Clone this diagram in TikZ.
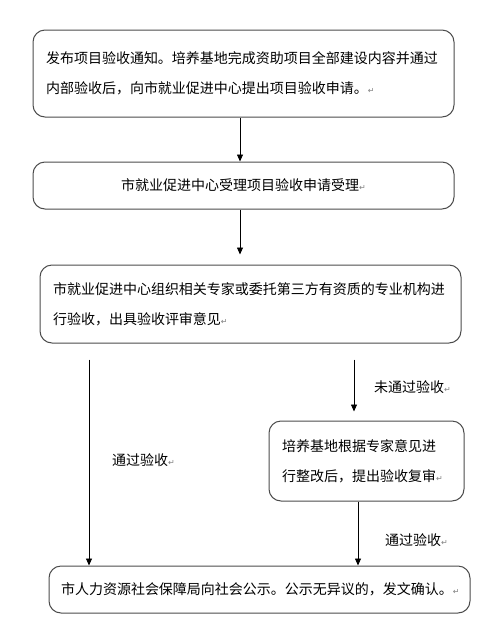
\documentclass[tikz,border=0pt]{standalone}
\usepackage{fontspec}
\setmainfont{Noto Sans CJK SC}
\newfontfamily\markfont{DejaVu Sans}
\usetikzlibrary{arrows.meta,positioning}
\newcommand{\Enter}{{\markfont\fontsize{8}{8}\selectfont\textcolor{gray}{↵}}}

\begin{document}
\begin{tikzpicture}[x=1pt, y=-1pt,
    stage/.style={draw=black!70, fill=white, line width=1pt, rounded corners=12pt,
        inner xsep=13pt, inner ysep=0pt, align=left,
        font=\fontsize{14}{30}\selectfont},
    flow/.style={-{Triangle[length=7pt,width=6pt]}, line width=0.8pt},
    note/.style={font=\fontsize{14}{16}\selectfont, inner sep=0pt, anchor=west}
]
\useasboundingbox (0,0) rectangle (495,630);

\node[stage, minimum width=421pt, minimum height=87pt, text width=395pt] (apply) at (243.5,73.5)
    {发布项目验收通知。培养基地完成资助项目全部建设内容并通过\\内部验收后，向市就业促进中心提出项目验收申请。\Enter};
\node[stage, minimum width=421pt, minimum height=47pt, text width=395pt, align=center] (accept) at (243.5,185.5)
    {市就业促进中心受理项目验收申请受理\Enter};
\node[stage, minimum width=421pt, minimum height=78pt, text width=395pt] (review) at (250.5,304)
    {市就业促进中心组织相关专家或委托第三方有资质的专业机构进\\行验收，出具验收评审意见\Enter};
\node[stage, minimum width=195pt, minimum height=80pt, text width=169pt] (rework) at (366.5,461)
    {培养基地根据专家意见进\\行整改后，提出验收复审\Enter};
\node[stage, minimum width=421pt, minimum height=47pt, text width=397pt, inner xsep=12pt] (notice) at (259.5,589.5)
    {市人力资源社会保障局向社会公示。公示无异议的，发文确认。\Enter};

\coordinate (colL) at (89,0);
\coordinate (colM) at (240,0);
\coordinate (colR) at (354,0);
\coordinate (colS) at (358,0);

\draw[flow] (apply.south -| colM) -- (accept.north -| colM);
\draw[flow, shorten >=10pt] (accept.south -| colM) -- (review.north -| colM);
\draw[flow, shorten <=16pt] (review.south -| colL) -- (notice.north -| colL);
\draw[flow, shorten <=16pt, shorten >=9pt] (review.south -| colR) -- (rework.north -| colR);
\draw[flow] (rework.south -| colS) -- (notice.north -| colS);

\node[note] (passL) at (112,460) {通过验收\Enter};
\node[note] (fail) at (374,387) {未通过验收\Enter};
\node[note] (passR) at (385,540) {通过验收\Enter};
\end{tikzpicture}
\end{document}
